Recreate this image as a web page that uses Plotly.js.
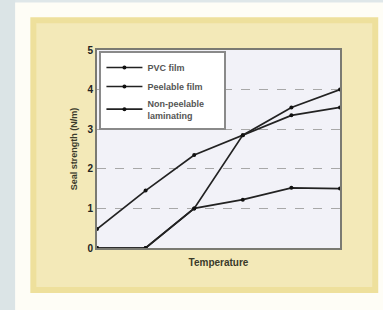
<!DOCTYPE html>
<html><head><meta charset="utf-8">
<script src="https://cdn.plot.ly/plotly-3.0.1.min.js"></script>
<style>html,body{margin:0;padding:0;background:#fff;}#c{width:383px;height:310px;}</style>
</head><body><div id="c"></div>
<script>
var temperature = [0, 1, 2, 3, 4, 5];
var seriesNames = ["<b>PVC film</b>", "<b>Peelable film</b>", "<b>Non-peelable</b>\u00a0\u00a0\u00a0\u00a0\u00a0\u00a0<br><b>laminating</b>"];
var filmA = [0.48, 1.45, 2.35, 2.85, 3.35, 3.55];
var filmB = [0, 0, 1.0, 2.85, 3.55, 4.0];
var filmC = [0, 0, 1.0, 1.22, 1.52, 1.5];
var yTicks = [0, 1, 2, 3, 4, 5];

var seriesValues = [filmA, filmB, filmC];
var traces = seriesValues.map(function(v, i){
  return {x: temperature, y: v, name: seriesNames[i], type: 'scatter', mode: 'lines+markers',
    line: {color: '#222', width: 1.7}, marker: {color: '#111', size: 4, symbol: 'circle'},
    cliponaxis: false};
});

var layout = {
  width: 383, height: 310,
  margin: {l: 97, r: 43, t: 50, b: 62},
  paper_bgcolor: '#fefdf6', plot_bgcolor: 'rgba(0,0,0,0)',
  font: {family: 'Liberation Sans, Arial, sans-serif', color: '#333'},
  showlegend: true,
  legend: {x: 0.01, y: 0.995, xanchor: 'left', yanchor: 'top', bgcolor: '#ffffff',
    bordercolor: '#8a8a8a', borderwidth: 2, font: {size: 9, color: '#555'},
    tracegroupgap: 1, itemwidth: 36},
  xaxis: {range: [0, 5], showticklabels: false, ticks: '', showgrid: false, zeroline: false,
    showline: true, linecolor: '#7a7a72', linewidth: 2, mirror: true,
    title: {text: '<b>Temperature</b>', font: {size: 10, color: '#3a3a2a'}, standoff: 10}},
  yaxis: {range: [0, 5], tickvals: yTicks, ticktext: yTicks.map(function(t){return '<b>' + t + '</b>';}), ticks: '',
    tickfont: {size: 10, color: '#222'}, showgrid: true, gridcolor: '#a8a8a8', griddash: 'dash', gridwidth: 1,
    zeroline: false, showline: true, linecolor: '#7a7a72', linewidth: 2, mirror: true,
    title: {text: '<b>Seal strength (N/m)</b>', font: {size: 9, color: '#3a3a2a'}, standoff: 8}},
  shapes: [
    {type: 'rect', xref: 'paper', yref: 'paper', x0: -0.4, x1: 1.18, y0: 1.24, y1: 1.26, fillcolor: '#dfe7e9', line: {width: 0}, layer: 'below'},
    {type: 'rect', xref: 'paper', yref: 'paper', x0: -0.4, x1: -0.337, y0: -0.32, y1: 1.26, fillcolor: '#dbe4e6', line: {width: 0}, layer: 'below'},
    {type: 'rect', xref: 'paper', yref: 'paper', x0: -0.262, x1: 1.145, y0: -0.212, y1: 1.15, fillcolor: '#f3e9b8', line: {color: '#eee09c', width: 6}, layer: 'below'},
    {type: 'rect', xref: 'paper', yref: 'paper', x0: 0, x1: 1, y0: 0, y1: 1, fillcolor: '#f2f2f8', line: {width: 0}, layer: 'below'}
  ]
};
Plotly.newPlot('c', traces, layout, {displayModeBar: false, staticPlot: true});
</script></body></html>
